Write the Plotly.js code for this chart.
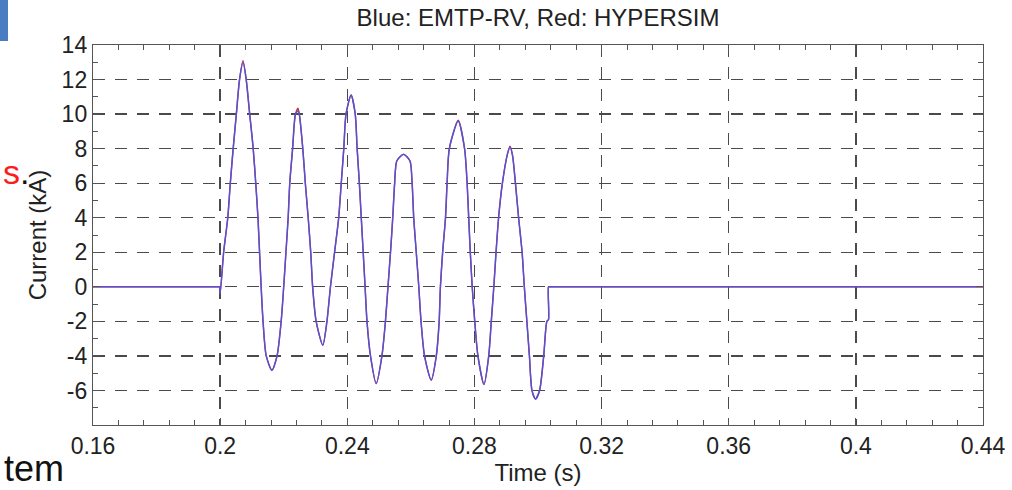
<!DOCTYPE html>
<html>
<head>
<meta charset="utf-8">
<script src="https://cdn.plot.ly/plotly-3.0.1.min.js"></script>
<style>html,body{margin:0;padding:0;background:#fff;}#chart{width:1012px;height:490px;}</style>
</head>
<body>
<div id="chart"></div>
<script>
// Time samples (s)
const timeS = [
  0.16, 0.1996, 0.1998, 0.2000, 0.2011, 0.2024, 0.2032, 0.2041, 0.2051, 0.2061, 0.2072,
  0.2082, 0.2093, 0.2104, 0.2112, 0.2119, 0.2124, 0.2129, 0.2135, 0.2145, 0.2163,
  0.2179, 0.2192, 0.2200, 0.2207, 0.2214, 0.2219, 0.2228, 0.2237, 0.2245, 0.2249,
  0.2260, 0.2268, 0.2277, 0.2285, 0.2291, 0.2302, 0.2323, 0.2336, 0.2347, 0.2360,
  0.2373, 0.2381, 0.2389, 0.2396, 0.2412, 0.2425, 0.2431, 0.2438, 0.2444, 0.2450,
  0.2456, 0.2462, 0.2473, 0.2491, 0.2509, 0.2520, 0.2528, 0.2536, 0.2543, 0.2549,
  0.2556, 0.2577, 0.2597, 0.2604, 0.2609, 0.2617, 0.2625, 0.2632, 0.2643, 0.2664,
  0.2680, 0.2689, 0.2693, 0.2700, 0.2709, 0.2714, 0.2721, 0.2749, 0.2769, 0.2777,
  0.2782, 0.2787, 0.2793, 0.2801, 0.2811, 0.2830, 0.2845, 0.2853, 0.2861, 0.2868,
  0.2876, 0.2888, 0.2904, 0.2912, 0.2920, 0.2929, 0.2939, 0.2950, 0.2957, 0.2965,
  0.2973, 0.2981, 0.2992, 0.3005, 0.3018, 0.3028, 0.3033, 0.3033, 0.3036, 0.44
];
// Blue: EMTP-RV current (kA)
const currentEmtp = [
  0, 0, 0, -0.4, 2, 4, 6, 8, 10, 12, 13.0,
  12, 10, 8, 6, 4, 2, 0, -2, -4, -4.83,
  -4, -2, 0, 2, 4, 6, 8, 10, 10.2, 10,
  8, 6, 4, 2, 0, -2, -3.38, -2, 0, 2,
  4, 6, 8, 10, 11.1, 10, 8, 6, 4, 2,
  0, -2, -4, -5.6, -4, -2, 0, 2, 4, 6,
  7.3, 7.67, 7.3, 6, 4, 2, 0, -2, -4, -5.4,
  -4, -2, 0, 2, 4, 6, 8, 9.6, 8, 6,
  4, 2, 0, -2, -4, -5.65, -4, -2, 0, 2,
  4, 6, 7.7, 8.1, 7.6, 6, 4, 2, 0, -2,
  -4, -6, -6.5, -6, -4, -2, -1.9, 0, 0, 0
];
// Red: HYPERSIM current (kA)
const currentHypersim = [
  0, 0, 0, -0.4, 2, 4, 6, 8, 10, 12, 13.1,
  12, 10, 8, 6, 4, 2, 0, -2, -4, -4.83,
  -4, -2, 0, 2, 4, 6, 8, 10, 10.35, 10,
  8, 6, 4, 2, 0, -2, -3.38, -2, 0, 2,
  4, 6, 8, 10, 11.1, 10, 8, 6, 4, 2,
  0, -2, -4, -5.6, -4, -2, 0, 2, 4, 6,
  7.3, 7.67, 7.3, 6, 4, 2, 0, -2, -4, -5.4,
  -4, -2, 0, 2, 4, 6, 8, 9.65, 8, 6,
  4, 2, 0, -2, -4, -5.65, -4, -2, 0, 2,
  4, 6, 7.7, 8.15, 7.6, 6, 4, 2, 0, -2,
  -4, -6, -6.5, -6, -4, -2, -1.9, 0, 0, 0
];
const xTickVals = [0.16, 0.2, 0.24, 0.28, 0.32, 0.36, 0.4, 0.44];
const xTickLabels = ['0.16', '0.2', '0.24', '0.28', '0.32', '0.36', '0.4', '0.44'];
const yTickVals = [-6, -4, -2, 0, 2, 4, 6, 8, 10, 12, 14];
const yTickLabels = ['-6', '-4', '-2', '0', '2', '4', '6', '8', '10', '12', '14'];

const FONT = 'Liberation Sans, Arial, Helvetica, sans-serif';
const axisCommon = {
  showline: true, linecolor: '#555', linewidth: 1.2, mirror: 'ticks',
  ticks: 'inside', ticklen: 7, tickwidth: 1, tickcolor: '#555',
  showgrid: true, gridcolor: '#4a4a4a', gridwidth: 1.3, griddash: '12px,10px',
  zeroline: false, tickfont: {family: FONT, size: 23, color: '#222'},
  automargin: false
};
const minorCommon = {tickmode: 'linear', ticks: 'inside', ticklen: 5, tickwidth: 1, tickcolor: '#555',
  showgrid: false, gridcolor: 'rgba(0,0,0,0)', gridwidth: 0};

const traces = [
  {x: timeS, y: currentHypersim, type: 'scatter', mode: 'lines', name: 'HYPERSIM',
   line: {color: '#e02525', width: 1.3, shape: 'spline', smoothing: 0.7}},
  {x: timeS, y: currentEmtp, type: 'scatter', mode: 'lines', name: 'EMTP-RV',
   line: {color: '#5252d6', width: 1.5, shape: 'spline', smoothing: 0.7}}
];

const layout = {
  width: 1012, height: 490,
  margin: {l: 93, r: 29, t: 45, b: 65},
  paper_bgcolor: '#fff', plot_bgcolor: '#fff',
  showlegend: false,
  font: {family: FONT, color: '#222'},
  title: {text: 'Blue: EMTP-RV, Red: HYPERSIM', font: {family: FONT, size: 24, color: '#222'},
          x: 0.5, xref: 'paper', y: 1 - 18 / 490, yref: 'container', yanchor: 'middle'},
  xaxis: Object.assign({}, axisCommon, {
    range: [0.16, 0.44], tickmode: 'array', tickvals: xTickVals, ticktext: xTickLabels,
    minor: Object.assign({}, minorCommon, {tick0: 0.16, dtick: 0.008}),
    title: {text: 'Time (s)', font: {family: FONT, size: 24, color: '#222'}, standoff: 6}
  }),
  yaxis: Object.assign({}, axisCommon, {
    range: [-8, 14], tickmode: 'array', tickvals: yTickVals, ticktext: yTickLabels,
    minor: Object.assign({}, minorCommon, {tick0: 0, dtick: 1}),
    title: {text: 'Current (kA)', font: {family: FONT, size: 24, color: '#222'}, standoff: 8}
  }),
  shapes: [
    {type: 'rect', xref: 'paper', yref: 'paper', x0: -93 / 890, x1: -85 / 890,
     y0: (425 - 41) / 380, y1: (425 + 5) / 380, line: {width: 0}, fillcolor: '#4a7cc2'}
  ],
  annotations: [
    {xref: 'paper', yref: 'paper', x: (1 - 93) / 890, y: (425 - 172) / 380, xanchor: 'left', yanchor: 'middle',
     showarrow: false, text: '<span style="color:#ff1a1a">s</span>.', font: {family: FONT, size: 34, color: '#111'}},
    {xref: 'paper', yref: 'paper', x: (2 - 93) / 890, y: (425 - 468) / 380, xanchor: 'left', yanchor: 'middle',
     showarrow: false, text: 'tem', font: {family: FONT, size: 36, color: '#111'}}
  ]
};

Plotly.newPlot('chart', traces, layout, {displayModeBar: false, staticPlot: true});
</script>
</body>
</html>
